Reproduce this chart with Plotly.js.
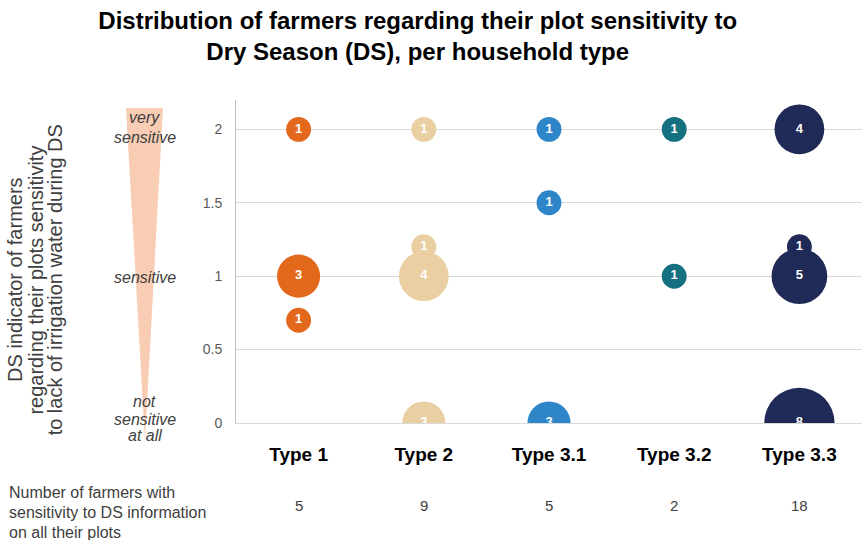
<!DOCTYPE html>
<html>
<head>
<meta charset="utf-8">
<script src="https://cdn.plot.ly/plotly-3.0.1.min.js"></script>
<style>html,body{margin:0;padding:0;background:#fff;}#chart{width:863px;height:540px;}</style>
</head>
<body>
<div id="chart"></div>
<script>
// Household types (categories)
const types = ["Type 1", "Type 2", "Type 3.1", "Type 3.2", "Type 3.3"];
const typeColors = ["#E2681C", "#E9CFA2", "#2E86C8", "#15707F", "#1F2A56"];

// DS indicator levels and number of farmers per type
const type1Y = [2, 1, 0.7];      const type1N = [1, 3, 1];
const type2Y = [2, 1.2, 1, 0];   const type2N = [1, 1, 4, 3];
const type31Y = [2, 1.5, 0];     const type31N = [1, 1, 3];
const type32Y = [2, 1];          const type32N = [1, 1];
const type33Y = [2, 1.2, 1, 0];  const type33N = [4, 1, 5, 8];

// Number of farmers with sensitivity to DS information on all plots
const farmersTotal = [5, 9, 5, 2, 18];

const yTickVals = [0, 0.5, 1, 1.5, 2];
const yTickText = ["0", "0.5", "1", "1.5", "2"];

const yTitleLines = ["DS indicator of farmers", "regarding their plots sensitivity", "to lack of irrigation water during DS"];
const footLines = ["Number of farmers with", "sensitivity to DS information", "on all their plots"];
const scaleLines = ["very", "sensitive", "sensitive", "not", "sensitive", "at all"];

const series = [
  [type1Y, type1N], [type2Y, type2N], [type31Y, type31N], [type32Y, type32N], [type33Y, type33N]
];

const FONT = '"Liberation Sans", Arial, sans-serif';

const traces = series.map(function (s, i) {
  return {
    type: 'scatter',
    mode: 'markers+text',
    x: s[0].map(function () { return types[i]; }),
    y: s[0],
    text: s[1].map(String),
    textposition: 'middle center',
    textfont: {family: FONT, size: 13, color: '#ffffff', weight: 'bold'},
    marker: {
      size: s[1],
      sizemode: 'area',
      sizeref: 1 / 310,
      color: typeColors[i],
      opacity: 1,
      line: {width: 0}
    },
    cliponaxis: true,
    hoverinfo: 'x+y+text',
    showlegend: false
  };
});

const italic = {family: FONT, size: 16, color: '#404040', style: 'italic'};
const annotations = [];
const scaleY = [0.947, 0.885, 0.449, 0.068, 0.012, -0.040];
scaleLines.forEach(function (t, i) {
  annotations.push({text: t, xref: 'paper', yref: 'paper', x: -0.1454, y: scaleY[i], showarrow: false,
    font: italic, xanchor: 'center', yanchor: 'middle'});
});

const yTitleX = [-0.353, -0.320, -0.290];
yTitleLines.forEach(function (t, i) {
  annotations.push({text: t, xref: 'paper', yref: 'paper', x: yTitleX[i], y: 0.443, textangle: -90,
    showarrow: false, font: {family: FONT, size: 20, color: '#404040'}, xanchor: 'center', yanchor: 'middle'});
});

const footY = [-0.2167, -0.2786, -0.3375];
footLines.forEach(function (t, i) {
  annotations.push({text: t, xref: 'paper', yref: 'paper', x: -0.366, y: footY[i], showarrow: false,
    align: 'left', font: {family: FONT, size: 16, color: '#404040'}, xanchor: 'left', yanchor: 'middle'});
});

farmersTotal.forEach(function (n, i) {
  annotations.push({text: String(n), xref: 'x', yref: 'paper', x: types[i], y: -0.2539,
    showarrow: false, font: {family: FONT, size: 15, color: '#404040'}, xanchor: 'center', yanchor: 'middle'});
});

const layout = {
  width: 863, height: 540,
  margin: {l: 236, r: 1, t: 100, b: 117},
  paper_bgcolor: '#ffffff', plot_bgcolor: '#ffffff',
  title: {
    text: '<b>Distribution of farmers regarding their plot sensitivity to<br>Dry Season (DS), per household type</b>',
    font: {family: FONT, size: 24, color: '#000000'},
    x: 0.484, xanchor: 'center', y: 0.947, yanchor: 'top'
  },
  xaxis: {
    type: 'category', categoryorder: 'array', categoryarray: types,
    range: [-0.5, 4.5],
    showgrid: false, zeroline: false, showline: true, linecolor: '#d9d9d9', linewidth: 1,
    ticks: 'outside', ticklen: 14, tickcolor: 'rgba(0,0,0,0)',
    tickfont: {family: FONT, size: 19, color: '#000000', weight: 'bold'}
  },
  yaxis: {
    range: [0, 2.2],
    tickvals: yTickVals, ticktext: yTickText,
    showgrid: true, gridcolor: '#d9d9d9', gridwidth: 1,
    zeroline: false, showline: true, linecolor: '#bfbfbf', linewidth: 1,
    ticks: 'outside', ticklen: 10, tickcolor: 'rgba(0,0,0,0)',
    tickfont: {family: FONT, size: 14, color: '#595959'}
  },
  shapes: [{
    type: 'path', xref: 'paper', yref: 'paper',
    path: 'M -0.1757 0.975 L -0.1166 0.975 L -0.1454 -0.055 Z',
    fillcolor: '#F9CDB3', line: {width: 0}, layer: 'below'
  }],
  annotations: annotations
};

Plotly.newPlot('chart', traces, layout, {displayModeBar: false, staticPlot: true});
</script>
</body>
</html>
